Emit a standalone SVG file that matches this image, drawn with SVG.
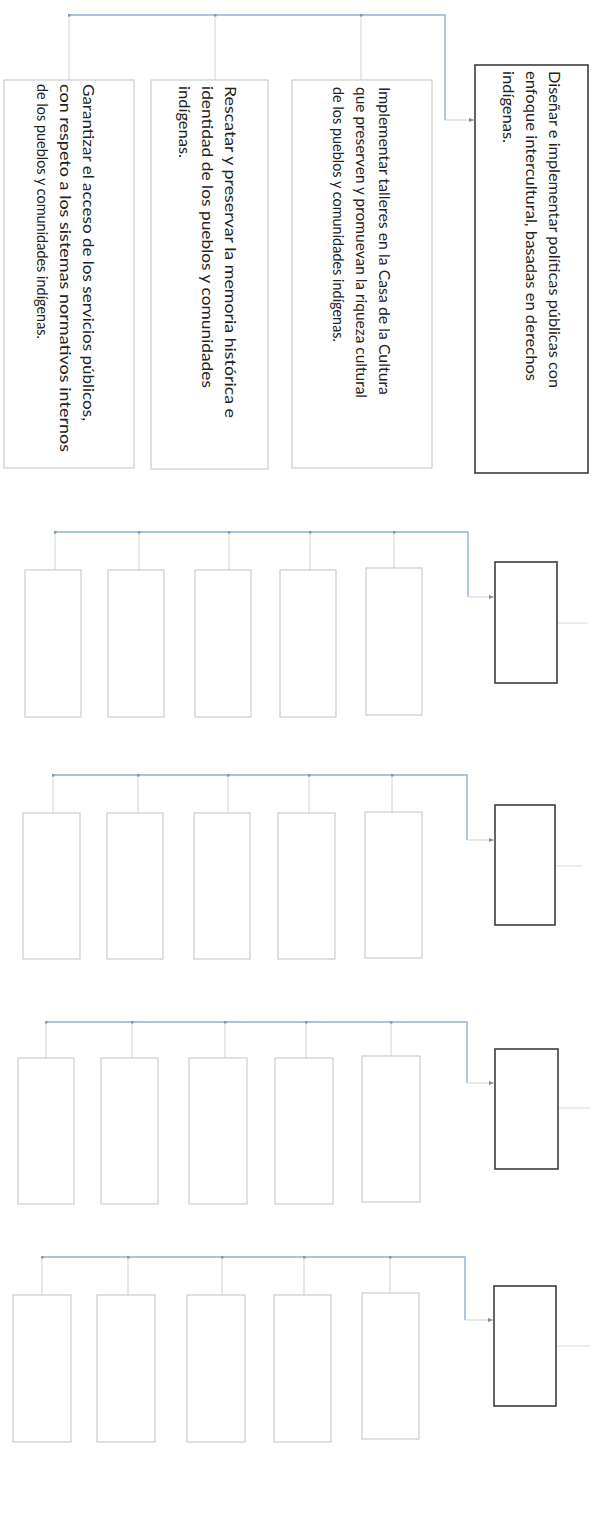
<svg xmlns="http://www.w3.org/2000/svg" width="592" height="1517" viewBox="0 0 592 1517">
<style>
.bg{fill:#ffffff}
.main{fill:#ffffff;stroke:#3c3c3c;stroke-width:1.6}
.child{fill:#ffffff;stroke:#c8c8c8;stroke-width:1.1}
.bus{fill:none;stroke:#8fb2d4;stroke-width:1.4}
.drop{fill:none;stroke:#d2d2d2;stroke-width:1}
.feed{fill:none;stroke:#c9d3de;stroke-width:1}
.stub{fill:none;stroke:#dcdcdc;stroke-width:1}
.t{font-family:Lato,"Open Sans","Liberation Sans",sans-serif;font-size:15.8px;fill:#222222}
</style>
<defs>
<marker id="arr" viewBox="0 0 6 6" refX="6" refY="3" markerWidth="5" markerHeight="5" orient="auto" markerUnits="userSpaceOnUse">
<path d="M0,0.5 L6,3 L0,5.5 z" fill="#7d8fa3"/>
</marker>
<marker id="tick" viewBox="0 0 4 4" refX="2" refY="2" markerWidth="3" markerHeight="3" markerUnits="userSpaceOnUse">
<rect x="0" y="0" width="4" height="4" fill="#8a96a4"/>
</marker>
</defs>
<rect class="bg" x="0" y="0" width="592" height="1517"/>

<g id="connectors">
<path class="bus" d="M69,15 H445 V120"/>
<path class="feed" d="M445,120 H474" marker-end="url(#arr)"/>
<path class="drop" d="M69,15 V80" marker-start="url(#tick)"/>
<path class="drop" d="M215,15 V80" marker-start="url(#tick)"/>
<path class="drop" d="M361,15 V80" marker-start="url(#tick)"/>

<path class="bus" d="M55,532 H468 V597"/>
<path class="feed" d="M468,597 H494" marker-end="url(#arr)"/>
<path class="drop" d="M55,532 V570" marker-start="url(#tick)"/>
<path class="drop" d="M139,532 V570" marker-start="url(#tick)"/>
<path class="drop" d="M229,532 V570" marker-start="url(#tick)"/>
<path class="drop" d="M310,532 V570" marker-start="url(#tick)"/>
<path class="drop" d="M394,532 V568" marker-start="url(#tick)"/>
<path class="stub" d="M557,623 H588"/>

<path class="bus" d="M53,775 H467 V840"/>
<path class="feed" d="M467,840 H494" marker-end="url(#arr)"/>
<path class="drop" d="M53,775 V813" marker-start="url(#tick)"/>
<path class="drop" d="M138,775 V813" marker-start="url(#tick)"/>
<path class="drop" d="M228,775 V813" marker-start="url(#tick)"/>
<path class="drop" d="M309,775 V813" marker-start="url(#tick)"/>
<path class="drop" d="M392,775 V812" marker-start="url(#tick)"/>
<path class="stub" d="M555,866 H582"/>

<path class="bus" d="M46,1022 H467 V1083"/>
<path class="feed" d="M467,1083 H494" marker-end="url(#arr)"/>
<path class="drop" d="M46,1022 V1058" marker-start="url(#tick)"/>
<path class="drop" d="M132,1022 V1058" marker-start="url(#tick)"/>
<path class="drop" d="M225,1022 V1058" marker-start="url(#tick)"/>
<path class="drop" d="M306,1022 V1058" marker-start="url(#tick)"/>
<path class="drop" d="M391,1022 V1056" marker-start="url(#tick)"/>
<path class="stub" d="M558,1108 H590"/>

<path class="bus" d="M42,1257 H465 V1320"/>
<path class="feed" d="M465,1320 H493" marker-end="url(#arr)"/>
<path class="drop" d="M42,1257 V1295" marker-start="url(#tick)"/>
<path class="drop" d="M128,1257 V1295" marker-start="url(#tick)"/>
<path class="drop" d="M222,1257 V1295" marker-start="url(#tick)"/>
<path class="drop" d="M304,1257 V1295" marker-start="url(#tick)"/>
<path class="drop" d="M390,1257 V1293" marker-start="url(#tick)"/>
<path class="stub" d="M556,1346 H590"/>
</g>

<g id="s1-main">
<rect class="main" x="475" y="65" width="113" height="408"/>
<text class="t" transform="translate(549,71) rotate(90)" textLength="317" lengthAdjust="spacingAndGlyphs">Diseñar e implementar políticas públicas con</text>
<text class="t" transform="translate(526,71) rotate(90)" textLength="310" lengthAdjust="spacingAndGlyphs">enfoque intercultural, basadas en derechos</text>
<text class="t" transform="translate(503,71) rotate(90)" textLength="72" lengthAdjust="spacingAndGlyphs">indígenas.</text>
</g>
<g id="s1-c1">
<rect class="child" x="292" y="80" width="140" height="388"/>
<text class="t" transform="translate(379,87) rotate(90)" textLength="308" lengthAdjust="spacingAndGlyphs">Implementar talleres en la Casa de la Cultura</text>
<text class="t" transform="translate(356,87) rotate(90)" textLength="311" lengthAdjust="spacingAndGlyphs">que preserven y promuevan la riqueza cultural</text>
<text class="t" transform="translate(333,87) rotate(90)" textLength="255" lengthAdjust="spacingAndGlyphs">de los pueblos y comunidades indígenas.</text>
</g>
<g id="s1-c2">
<rect class="child" x="151" y="80" width="117" height="389"/>
<text class="t" transform="translate(225,86) rotate(90)" textLength="332" lengthAdjust="spacingAndGlyphs">Rescatar y preservar la memoria histórica e</text>
<text class="t" transform="translate(202,86) rotate(90)" textLength="302" lengthAdjust="spacingAndGlyphs">identidad de los pueblos y comunidades</text>
<text class="t" transform="translate(179,86) rotate(90)" textLength="72" lengthAdjust="spacingAndGlyphs">indígenas.</text>
</g>
<g id="s1-c3">
<rect class="child" x="4" y="80" width="130" height="388"/>
<text class="t" transform="translate(83,84) rotate(90)" textLength="337" lengthAdjust="spacingAndGlyphs">Garantizar el acceso de los servicios públicos,</text>
<text class="t" transform="translate(60,84) rotate(90)" textLength="368" lengthAdjust="spacingAndGlyphs">con respeto a los sistemas normativos internos</text>
<text class="t" transform="translate(37,84) rotate(90)" textLength="255" lengthAdjust="spacingAndGlyphs">de los pueblos y comunidades indígenas.</text>
</g>

<g id="s2-main"><rect class="main" x="495" y="562" width="62" height="121"/></g>
<g id="s2-c1"><rect class="child" x="366" y="568" width="56" height="147"/></g>
<g id="s2-c2"><rect class="child" x="280" y="570" width="56" height="147"/></g>
<g id="s2-c3"><rect class="child" x="195" y="570" width="56" height="147"/></g>
<g id="s2-c4"><rect class="child" x="108" y="570" width="56" height="147"/></g>
<g id="s2-c5"><rect class="child" x="25" y="570" width="56" height="147"/></g>

<g id="s3-main"><rect class="main" x="495" y="805" width="60" height="120"/></g>
<g id="s3-c1"><rect class="child" x="365" y="812" width="57" height="146"/></g>
<g id="s3-c2"><rect class="child" x="278" y="813" width="57" height="146"/></g>
<g id="s3-c3"><rect class="child" x="194" y="813" width="56" height="146"/></g>
<g id="s3-c4"><rect class="child" x="107" y="813" width="56" height="146"/></g>
<g id="s3-c5"><rect class="child" x="23" y="813" width="57" height="146"/></g>

<g id="s4-main"><rect class="main" x="495" y="1049" width="63" height="120"/></g>
<g id="s4-c1"><rect class="child" x="362" y="1056" width="58" height="146"/></g>
<g id="s4-c2"><rect class="child" x="275" y="1058" width="58" height="146"/></g>
<g id="s4-c3"><rect class="child" x="189" y="1058" width="58" height="146"/></g>
<g id="s4-c4"><rect class="child" x="101" y="1058" width="57" height="146"/></g>
<g id="s4-c5"><rect class="child" x="18" y="1058" width="56" height="146"/></g>

<g id="s5-main"><rect class="main" x="494" y="1286" width="62" height="120"/></g>
<g id="s5-c1"><rect class="child" x="362" y="1293" width="57" height="146"/></g>
<g id="s5-c2"><rect class="child" x="274" y="1295" width="57" height="147"/></g>
<g id="s5-c3"><rect class="child" x="187" y="1295" width="58" height="147"/></g>
<g id="s5-c4"><rect class="child" x="97" y="1295" width="58" height="147"/></g>
<g id="s5-c5"><rect class="child" x="13" y="1295" width="58" height="147"/></g>
</svg>
